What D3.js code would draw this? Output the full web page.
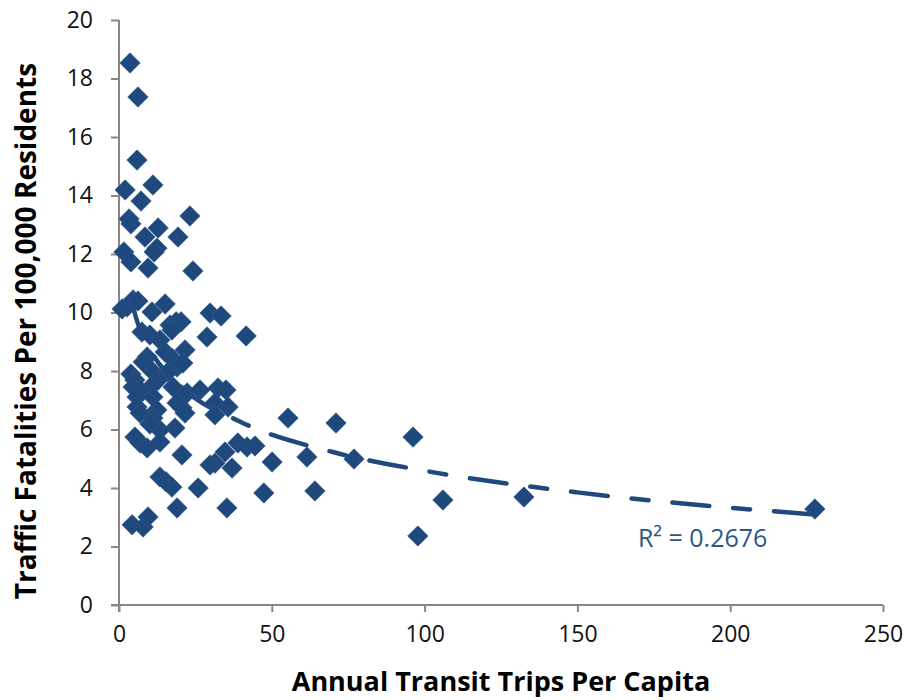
<!DOCTYPE html>
<html>
<head>
<meta charset="utf-8">
<script src="https://cdn.jsdelivr.net/npm/d3@7/dist/d3.min.js"></script>
<style>
  html, body { margin: 0; padding: 0; background: #ffffff; }
  svg { display: block; }
</style>
</head>
<body>
<svg id="chart" width="909" height="700"></svg>
<script>
// ---- data ----
const tripsPerCapita = [
  3.6, 6.2, 5.9, 2.0, 11.1, 7.2, 3.3, 3.9, 23.2, 12.8, 8.5, 19.3, 1.6, 12.4, 11.5, 3.9, 9.5, 24.2,
  1.0, 2.6, 4.6, 6.2, 10.8, 15.1, 29.8, 33.4, 7.5, 10.1, 16.7, 18.7, 20.3, 17.3, 13.4, 21.6, 28.8, 41.6,
  9.2, 7.9, 15.1, 17.3, 19.0, 20.9, 16.0, 3.9, 5.2, 4.6, 11.1, 12.8, 10.1, 17.7, 6.9, 5.9, 5.9, 11.1,
  12.4, 19.0, 22.3, 26.5, 32.4, 35.0, 20.6, 31.4, 35.7,
  6.9, 11.1, 21.6, 31.4, 55.3, 71.0, 18.3, 13.4, 5.2, 6.9, 9.2, 13.4, 20.6, 34.7, 38.9, 41.9, 44.5,
  96.2, 31.4, 29.8, 37.0, 50.1, 61.5, 76.9, 13.4, 15.4, 17.3, 25.9, 47.4, 64.1, 106.0, 132.5, 19.0,
  35.3, 4.3, 7.9, 9.5, 97.8, 227.7, 10.1
];
const fatalitiesPer100k = [
  18.53, 17.37, 15.21, 14.19, 14.36, 13.81, 13.20, 13.03, 13.30, 12.89, 12.58, 12.58, 12.07, 12.20, 12.07, 11.73, 11.52, 11.42,
  10.12, 10.19, 10.43, 10.39, 10.02, 10.29, 9.98, 9.88, 9.33, 9.23, 9.57, 9.68, 9.68, 9.40, 9.06, 8.72, 9.16, 9.20,
  8.48, 8.31, 8.65, 8.44, 8.14, 8.27, 7.97, 7.90, 7.69, 7.45, 7.97, 7.69, 7.42, 7.45, 7.35, 7.11, 6.77, 7.11,
  6.67, 6.91, 7.25, 7.35, 7.42, 7.35, 6.74, 6.91, 6.77,
  6.56, 6.39, 6.56, 6.50, 6.39, 6.22, 6.05, 5.98, 5.74, 5.54, 5.37, 5.57, 5.13, 5.23, 5.54, 5.40, 5.44,
  5.74, 4.85, 4.79, 4.68, 4.89, 5.06, 4.99, 4.38, 4.21, 4.03, 4.00, 3.83, 3.90, 3.59, 3.69, 3.32,
  3.32, 2.74, 2.67, 3.01, 2.36, 3.28, 6.19
];
// trendline points
const trendX = [4, 6, 10, 20, 40, 70, 100, 150, 228];
const trendY = [10.42, 9.68, 8.76, 7.50, 6.25, 5.23, 4.59, 3.85, 3.09];
const xTicks = [0, 50, 100, 150, 200, 250];
const yTicks = [0, 2, 4, 6, 8, 10, 12, 14, 16, 18, 20];
const rSquaredLabel = "R\u00B2 = 0.2676";
const xTitle = "Annual Transit Trips Per Capita";
const yTitle = "Traffic Fatalities Per 100,000 Residents";

// ---- layout ----
const W = 909, H = 700;
const margin = { left: 119, right: 26, top: 20, bottom: 95 };
const innerW = W - margin.left - margin.right;
const innerH = H - margin.top - margin.bottom;
const markColor = "#1F497D";
const axisColor = "#878787";
const font = "'Open Sans', 'Noto Sans', sans-serif";

const svg = d3.select("#chart");
const g = svg.append("g").attr("transform", `translate(${margin.left},${margin.top})`);

const x = d3.scaleLinear().domain([0, 250]).range([0, innerW]);
const y = d3.scaleLinear().domain([0, 20]).range([innerH, 0]);

// axes
const xAxis = g.append("g")
  .attr("transform", `translate(0,${innerH})`)
  .call(d3.axisBottom(x).tickValues(xTicks).tickSize(7).tickPadding(14));
const yAxis = g.append("g")
  .call(d3.axisLeft(y).tickValues(yTicks).tickSize(8).tickPadding(18));

[xAxis, yAxis].forEach(a => {
  a.selectAll("path.domain").attr("stroke", axisColor).attr("stroke-width", 2);
  a.selectAll(".tick line").attr("stroke", axisColor).attr("stroke-width", 2);
  a.selectAll(".tick text")
    .attr("fill", "#111")
    .style("font-family", font)
    .style("font-size", "23px");
});
xAxis.select("path.domain").attr("d", `M-8,0H${innerW}`);
yAxis.select("path.domain").attr("d", `M0,0V${innerH + 7}`);

// trendline (beneath markers)
const trend = trendX.map((v, i) => ({ x: v, y: trendY[i] }));
g.append("path")
  .datum(trend)
  .attr("d", d3.line().x(d => x(d.x)).y(d => y(d.y)).curve(d3.curveMonotoneX))
  .attr("fill", "none")
  .attr("stroke", markColor)
  .attr("stroke-width", 4.5)
  .attr("stroke-linecap", "round")
  .attr("stroke-dasharray", "37,24,17,24");

// markers
const pts = tripsPerCapita.map((v, i) => ({ x: v, y: fatalitiesPer100k[i] }));
const diamond = d3.symbol().type(d3.symbolSquare).size(210);
g.append("g").selectAll("path")
  .data(pts)
  .join("path")
  .attr("d", diamond)
  .attr("transform", d => `translate(${x(d.x)},${y(d.y)}) rotate(45)`)
  .attr("fill", markColor)
  .attr("stroke", "#2f5a8c")
  .attr("stroke-width", 0.6);

// R^2 label
g.append("text")
  .attr("x", x(169.8))
  .attr("y", y(1.98))
  .attr("fill", "#2B5586")
  .style("font-family", font)
  .style("font-size", "25px")
  .text(rSquaredLabel);

// axis titles
svg.append("text")
  .attr("x", 501)
  .attr("y", 691)
  .attr("text-anchor", "middle")
  .style("font-family", font)
  .style("font-weight", "bold")
  .style("font-size", "27px")
  .attr("fill", "#000")
  .text(xTitle);

svg.append("text")
  .attr("transform", "translate(36,331) rotate(-90)")
  .attr("text-anchor", "middle")
  .style("font-family", font)
  .style("font-weight", "bold")
  .style("font-size", "28px")
  .attr("fill", "#000")
  .text(yTitle);
</script>
</body>
</html>
